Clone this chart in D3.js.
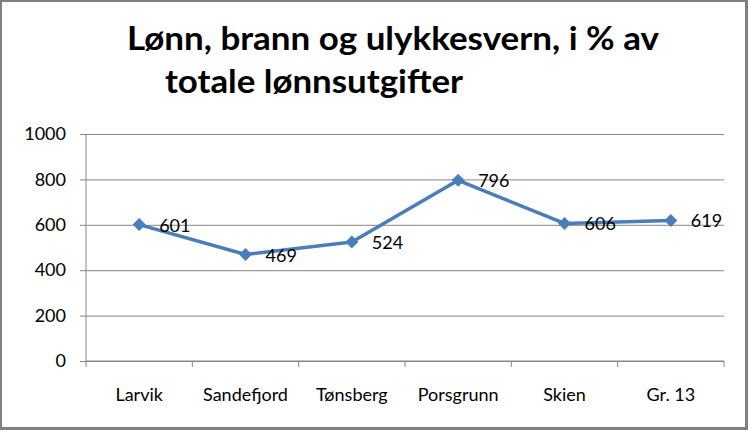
<!DOCTYPE html>
<html>
<head>
<meta charset="utf-8">
<script src="https://cdn.jsdelivr.net/npm/d3@7"></script>
<style>
  body { margin: 0; background: #fff; }
  svg { display: block; font-family: Lato, "Liberation Sans", sans-serif; }
</style>
</head>
<body>
<svg id="chart" width="748" height="430"></svg>
<script>
const categories = ["Larvik", "Sandefjord", "Tønsberg", "Porsgrunn", "Skien", "Gr. 13"];
const values = [601, 469, 524, 796, 606, 619];
const yTicks = [0, 200, 400, 600, 800, 1000];
const titleLines = ["Lønn, brann og ulykkesvern, i % av", "totale lønnsutgifter"];

const svg = d3.select("#chart");
const W = 748, H = 430;
const margin = {top: 134, right: 24, bottom: 69, left: 86};
const plotW = W - margin.left - margin.right;
const plotH = H - margin.top - margin.bottom;

// outer frame with the darker right / bottom edge
svg.append("rect").attr("x", 1).attr("y", 1).attr("width", W - 3).attr("height", H - 3)
  .attr("fill", "#fff").attr("stroke", "#808080").attr("stroke-width", 2);
svg.append("rect").attr("x", W - 3).attr("y", 0).attr("width", 3).attr("height", H).attr("fill", "#7f7f7f");
svg.append("rect").attr("x", 0).attr("y", H - 3).attr("width", W).attr("height", 3).attr("fill", "#7f7f7f");

// title
svg.append("text").attr("x", 127).attr("y", 50)
  .attr("font-weight", "bold").attr("font-size", 32)
  .attr("textLength", 532).attr("lengthAdjust", "spacingAndGlyphs")
  .text(titleLines[0]);
svg.append("text").attr("x", 165).attr("y", 93)
  .attr("font-weight", "bold").attr("font-size", 32)
  .attr("textLength", 298).attr("lengthAdjust", "spacingAndGlyphs")
  .text(titleLines[1]);

const g = svg.append("g").attr("transform", `translate(${margin.left},${margin.top})`);

const x = d3.scaleBand().domain(categories).range([0, plotW]);
const y = d3.scaleLinear().domain([0, 1000]).range([plotH, 0]);

// gridlines + y axis
const yAxis = g.append("g")
  .call(d3.axisLeft(y).tickValues(yTicks).tickFormat(d3.format("d"))
    .tickSize(-plotW).tickSizeOuter(0));
yAxis.select(".domain").remove();
yAxis.selectAll(".tick line").attr("stroke", "#868686").attr("x1", -6);
yAxis.selectAll(".tick text")
  .attr("font-family", "Lato, sans-serif").attr("font-size", 18).attr("fill", "#000")
  .attr("x", -20);
g.append("line").attr("x1", 0).attr("x2", 0).attr("y1", 0).attr("y2", plotH)
  .attr("stroke", "#868686");

// x axis
g.append("line").attr("x1", 0).attr("x2", plotW).attr("y1", plotH).attr("y2", plotH)
  .attr("stroke", "#868686");
const bounds = categories.map(c => x(c) + x.bandwidth()).concat([0]);
g.selectAll(".xtick").data(bounds).join("line")
  .attr("x1", d => d).attr("x2", d => d)
  .attr("y1", plotH).attr("y2", plotH + 6)
  .attr("stroke", "#868686");
g.selectAll(".xlabel").data(categories).join("text")
  .attr("x", d => x(d) + x.bandwidth() / 2)
  .attr("y", plotH + 40)
  .attr("text-anchor", "middle")
  .attr("font-size", 18)
  .text(d => d);

// line + markers
const pts = categories.map((c, i) => [x(c) + x.bandwidth() / 2, y(values[i])]);
g.append("path").datum(pts)
  .attr("d", d3.line())
  .attr("fill", "none").attr("stroke", "#4A7EBB").attr("stroke-width", 3.5)
  .attr("stroke-linejoin", "round");
g.selectAll(".pt").data(pts).join("path")
  .attr("d", d3.symbol(d3.symbolSquare, 85))
  .attr("transform", d => `translate(${d[0]},${d[1]}) rotate(45)`)
  .attr("fill", "#4A7EBB");

g.selectAll(".lbl").data(values).join("text")
  .attr("x", (d, i) => pts[i][0] + 20)
  .attr("y", (d, i) => pts[i][1] + 7)
  .attr("font-size", 18)
  .text(d => d);
</script>
</body>
</html>
